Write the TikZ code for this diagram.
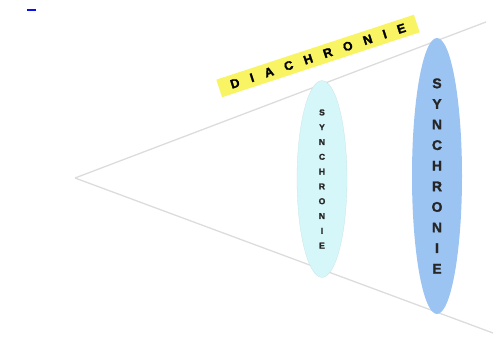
\documentclass[tikz,border=0pt]{standalone}
\usepackage{fontspec}
\setmainfont[BoldFeatures={FakeBold=1.6}]{Liberation Sans}
\usepackage{tikz}
\usetikzlibrary{shapes.geometric}
\definecolor{ray}{HTML}{DCDCDC}
\definecolor{paleaqua}{HTML}{D6F7F9}
\definecolor{skyblue}{HTML}{9BC4F3}
\definecolor{lemon}{HTML}{F8F464}
\definecolor{linkblue}{HTML}{0A10E8}
\newcommand{\lgap}{\hspace{0.93em}}

\begin{document}
\begin{tikzpicture}[x=1pt,y=-1pt,
  rayline/.style={draw=ray,line width=1.3pt},
  synch/.style={ellipse,inner sep=0pt,align=center,text=black!85},
  band/.style={fill=lemon,rotate=18.2,minimum width=208pt,minimum height=18.5pt,
               inner sep=0pt,font=\bfseries\fontsize{12.5}{14}\selectfont}]
\useasboundingbox (0,0) rectangle (493,355);
\fill[linkblue] (27,8.6) rectangle (36,10.6);
\coordinate (apex) at (75,178);
\coordinate (top) at (486,22);
\coordinate (bot) at (493,333);
\draw[rayline] (apex) -- (top);
\draw[rayline] (apex) -- (bot);
\node[synch,fill=paleaqua,draw=paleaqua!92!black,line width=0.3pt,
      minimum width=50pt,minimum height=188pt,
      font=\bfseries\fontsize{8.5}{14.8}\selectfont] (near) at (322,179)
  {S\\Y\\N\\C\\H\\R\\O\\N\\I\\E};
\node[synch,fill=skyblue,minimum width=50pt,minimum height=265pt,
      font=\bfseries\fontsize{14}{20.6}\selectfont] (far) at (437,176)
  {S\\Y\\N\\C\\H\\R\\O\\N\\I\\E};
\node[band] (dia) at (318,56)
  {D\lgap I\lgap A\lgap C\lgap H\lgap R\lgap O\lgap N\lgap I\lgap E};
\end{tikzpicture}
\end{document}
